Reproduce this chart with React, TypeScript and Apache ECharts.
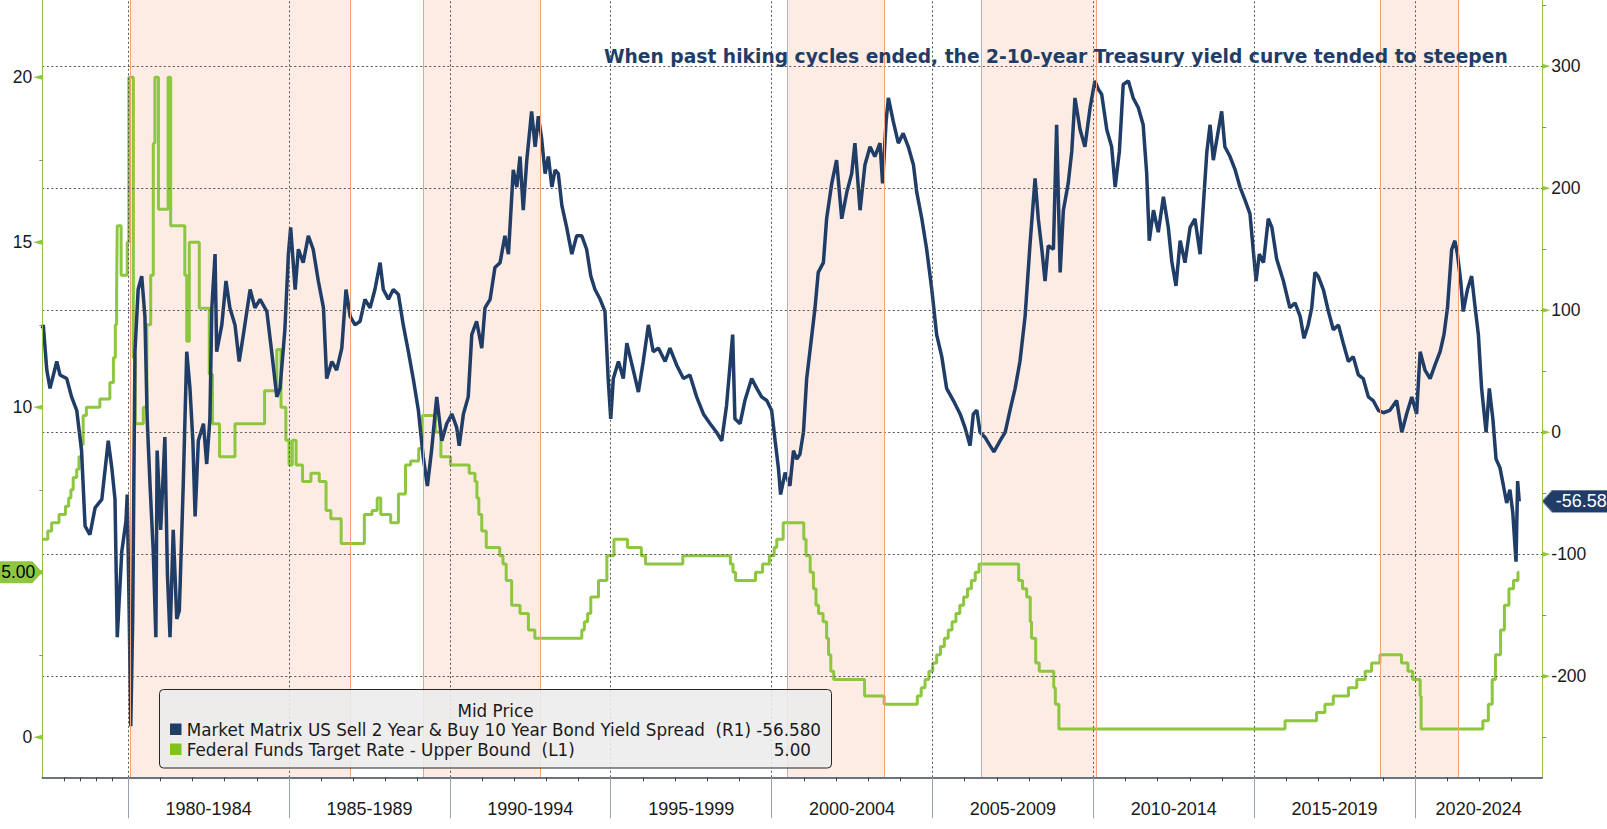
import React, { useEffect, useRef } from 'react';
import * as echarts from 'echarts';

// ---------- axis ranges (decimal years / % / bp) ----------
const X_MIN = 1977.33;
const X_MAX = 2023.957;
const Y_LEFT_MIN = -1.212;
const Y_LEFT_MAX = 22.342;
const Y_RIGHT_MIN = -282.8;
const Y_RIGHT_MAX = 354.3;

// ---------- categories / tick labels ----------
const periodStarts = [1980, 1985, 1990, 1995, 2000, 2005, 2010, 2015, 2020];
const periodLabels = ['1980-1984', '1985-1989', '1990-1994', '1995-1999', '2000-2004', '2005-2009', '2010-2014', '2015-2019', '2020-2024'];
const earlyHalfYearTicks = [1978, 1978.5, 1979, 1979.5];
const leftAxisLabels = [0, 10, 15, 20];
const leftAxisArrows = [0, 5, 10, 15, 20];
const leftMinorTicks = [2.5, 7.5, 12.5, 17.5];
const rightAxisLabels = [-200, -100, 0, 100, 200, 300];
const rightMinorTicks = [-250, -150, -50, 50, 150, 250, 350];

// shaded periods after hiking cycles ended
const bands: [number, number][] = [
  [1980.06, 1986.89],
  [1989.16, 1992.8],
  [2000.48, 2003.49],
  [2006.51, 2010.09],
  [2018.91, 2021.34],
];

const chartTitle = 'When past hiking cycles ended, the 2-10-year Treasury yield curve tended to steepen';
const legendTitle = 'Mid Price';
const seriesNames = [
  'Market Matrix US Sell 2 Year & Buy 10 Year Bond Yield Spread\u00a0\u00a0(R1)',
  'Federal Funds Target Rate - Upper Bound\u00a0\u00a0(L1)',
];

// ---------- series values ----------
// 2s10s spread, bp (right axis)
const spread: [number, number][] = [
  [1977.33, 85], [1977.36, 88], [1977.47, 51], [1977.57, 36], [1977.78, 58], [1977.88, 47], [1978.09, 44], [1978.24, 29],
  [1978.4, 18], [1978.55, -15], [1978.66, -77], [1978.81, -84], [1978.97, -62], [1979.18, -55], [1979.38, -7], [1979.49, -29],
  [1979.59, -55], [1979.66, -168], [1979.8, -98], [1979.93, -73], [1979.97, -51], [1980.03, -146], [1980.08, -241], [1980.14, -153],
  [1980.21, 66], [1980.31, 117], [1980.42, 128], [1980.52, 95], [1980.59, 11], [1980.68, -44], [1980.78, -98], [1980.86, -168],
  [1980.9, -15], [1981.01, -80], [1981.14, -4], [1981.22, -117], [1981.3, -168], [1981.4, -80], [1981.51, -153], [1981.59, -146],
  [1981.71, -44], [1981.82, 66], [1981.92, 36], [1982.01, -7], [1982.08, -69], [1982.18, -7], [1982.34, 7], [1982.44, -26],
  [1982.54, 11], [1982.6, 102], [1982.7, 146], [1982.75, 66], [1982.91, 88], [1983.04, 124], [1983.16, 102], [1983.32, 88],
  [1983.45, 58], [1983.58, 80], [1983.79, 117], [1983.94, 102], [1984.1, 109], [1984.31, 99], [1984.46, 66], [1984.62, 29],
  [1984.72, 36], [1984.87, 84], [1984.98, 146], [1985.05, 168], [1985.19, 117], [1985.29, 150], [1985.44, 139], [1985.6, 161],
  [1985.75, 150], [1985.91, 124], [1986.07, 102], [1986.17, 44], [1986.33, 58], [1986.48, 51], [1986.64, 69], [1986.77, 117],
  [1986.9, 95], [1987.05, 88], [1987.21, 91], [1987.36, 109], [1987.52, 102], [1987.67, 117], [1987.83, 139], [1987.93, 117],
  [1988.09, 109], [1988.24, 117], [1988.4, 113], [1988.55, 88], [1988.71, 66], [1988.86, 44], [1989.02, 18], [1989.17, -20],
  [1989.3, -44], [1989.43, -15], [1989.59, 29], [1989.75, -7], [1989.9, 7], [1990.06, 15], [1990.21, 4], [1990.29, -11],
  [1990.42, 15], [1990.57, 29], [1990.68, 80], [1990.83, 91], [1990.99, 69], [1991.09, 102], [1991.25, 109], [1991.4, 135],
  [1991.56, 139], [1991.71, 161], [1991.82, 146], [1991.97, 215], [1992.08, 201], [1992.18, 226], [1992.28, 182], [1992.39, 223],
  [1992.54, 263], [1992.65, 234], [1992.75, 259], [1992.85, 241], [1992.96, 212], [1993.06, 226], [1993.17, 201], [1993.27, 215],
  [1993.37, 212], [1993.48, 186], [1993.63, 168], [1993.79, 146], [1993.94, 161], [1994.1, 161], [1994.25, 150], [1994.38, 128],
  [1994.51, 117], [1994.67, 109], [1994.82, 99], [1994.92, 44], [1995.0, 11], [1995.08, 44], [1995.24, 58], [1995.39, 44],
  [1995.5, 73], [1995.7, 51], [1995.86, 33], [1996.01, 58], [1996.17, 88], [1996.32, 66], [1996.48, 69], [1996.69, 58],
  [1996.84, 69], [1997.05, 55], [1997.26, 44], [1997.46, 47], [1997.67, 29], [1997.88, 15], [1998.09, 7], [1998.29, 0],
  [1998.45, -7], [1998.6, 22], [1998.79, 80], [1998.86, 11], [1999.02, 7], [1999.17, 26], [1999.38, 44], [1999.54, 36],
  [1999.69, 29], [1999.85, 26], [2000.0, 18], [2000.11, -7], [2000.21, -29], [2000.28, -51], [2000.42, -33], [2000.57, -44],
  [2000.68, -15], [2000.78, -22], [2000.88, -18], [2000.99, 0], [2001.09, 44], [2001.19, 66], [2001.35, 102], [2001.45, 131],
  [2001.61, 139], [2001.71, 175], [2001.87, 204], [2002.02, 223], [2002.18, 175], [2002.34, 197], [2002.49, 212], [2002.59, 237],
  [2002.75, 182], [2002.9, 219], [2003.06, 234], [2003.21, 226], [2003.37, 237], [2003.45, 204], [2003.56, 255], [2003.63, 274],
  [2003.78, 255], [2003.94, 237], [2004.09, 245], [2004.25, 234], [2004.41, 219], [2004.51, 197], [2004.67, 175], [2004.82, 150],
  [2004.98, 117], [2005.13, 80], [2005.29, 62], [2005.44, 36], [2005.65, 26], [2005.86, 15], [2006.01, 4], [2006.17, -11],
  [2006.27, 15], [2006.38, 18], [2006.48, 0], [2006.63, -4], [2006.79, -11], [2006.91, -16], [2007.1, -7], [2007.26, 0],
  [2007.41, 18], [2007.57, 36], [2007.72, 58], [2007.88, 95], [2008.03, 153], [2008.19, 208], [2008.29, 175], [2008.4, 150],
  [2008.5, 124], [2008.6, 153], [2008.76, 150], [2008.86, 252], [2008.97, 131], [2009.07, 182], [2009.22, 204], [2009.33, 230],
  [2009.43, 274], [2009.59, 248], [2009.74, 234], [2009.9, 266], [2010.05, 288], [2010.16, 281], [2010.26, 277], [2010.42, 248],
  [2010.57, 234], [2010.68, 201], [2010.81, 230], [2010.93, 285], [2011.09, 288], [2011.24, 274], [2011.4, 266], [2011.55, 252],
  [2011.66, 212], [2011.74, 157], [2011.87, 182], [2012.02, 164], [2012.18, 193], [2012.33, 168], [2012.44, 140], [2012.57, 120],
  [2012.7, 157], [2012.85, 139], [2013.01, 168], [2013.16, 175], [2013.32, 146], [2013.42, 186], [2013.53, 230], [2013.63, 252],
  [2013.73, 223], [2013.89, 248], [2013.99, 263], [2014.09, 234], [2014.25, 226], [2014.41, 215], [2014.56, 201], [2014.72, 190],
  [2014.87, 179], [2014.97, 150], [2015.06, 124], [2015.16, 146], [2015.29, 139], [2015.44, 175], [2015.55, 168], [2015.7, 142],
  [2015.91, 124], [2016.11, 102], [2016.27, 106], [2016.43, 95], [2016.55, 77], [2016.68, 88], [2016.79, 102], [2016.89, 131],
  [2016.99, 128], [2017.15, 117], [2017.31, 99], [2017.46, 84], [2017.62, 88], [2017.77, 73], [2017.93, 58], [2018.08, 62],
  [2018.24, 47], [2018.39, 44], [2018.55, 29], [2018.7, 26], [2018.86, 18], [2019.02, 16], [2019.22, 18], [2019.43, 26],
  [2019.59, 0], [2019.74, 15], [2019.9, 29], [2020.05, 15], [2020.16, 66], [2020.31, 51], [2020.47, 44], [2020.62, 55],
  [2020.78, 66], [2020.9, 80], [2021.01, 102], [2021.14, 150], [2021.24, 157], [2021.32, 146], [2021.42, 124], [2021.5, 99],
  [2021.63, 117], [2021.76, 128], [2021.87, 102], [2021.97, 80], [2022.07, 36], [2022.21, 0], [2022.31, 36], [2022.42, 11],
  [2022.52, -22], [2022.64, -29], [2022.75, -44], [2022.85, -58], [2022.95, -47], [2023.04, -66], [2023.14, -106], [2023.19, -40],
  [2023.24, -56.58],
];

// Fed funds target upper bound, % (left axis); each point = new level from that date
const fedFunds: [number, number][] = [
  [1977.33, 6.0], [1977.5, 6.25], [1977.62, 6.5], [1977.85, 6.75], [1978.05, 7.0], [1978.15, 7.25], [1978.22, 7.5], [1978.29, 7.875],
  [1978.4, 8.125], [1978.47, 8.5], [1978.55, 8.875], [1978.6, 9.75], [1978.7, 10.0], [1979.12, 10.25], [1979.43, 10.75], [1979.54, 11.5],
  [1979.6, 12.5], [1979.64, 13.5], [1979.66, 15.5], [1979.78, 14.0], [1979.97, 15.0], [1980.02, 20.0], [1980.16, 11.5], [1980.22, 9.5],
  [1980.47, 10.0], [1980.58, 12.5], [1980.7, 14.0], [1980.78, 18.0], [1980.83, 20.0], [1980.94, 16.0], [1981.24, 20.0], [1981.32, 15.5],
  [1981.76, 14.0], [1981.82, 12.0], [1981.9, 15.0], [1982.21, 13.0], [1982.52, 11.0], [1982.62, 9.5], [1982.84, 8.5], [1983.32, 9.5],
  [1984.24, 10.5], [1984.62, 11.75], [1984.75, 10.0], [1984.9, 9.0], [1985.0, 8.25], [1985.1, 9.0], [1985.22, 8.25], [1985.42, 7.75],
  [1985.68, 8.0], [1985.94, 7.75], [1986.15, 6.875], [1986.3, 6.625], [1986.62, 5.875], [1987.34, 6.75], [1987.58, 6.875], [1987.74, 7.25],
  [1987.85, 6.75], [1988.16, 6.5], [1988.4, 7.375], [1988.62, 8.25], [1988.78, 8.375], [1989.03, 8.75], [1989.15, 9.75], [1989.55, 9.25],
  [1989.72, 8.5], [1990.02, 8.25], [1990.6, 8.0], [1990.78, 7.75], [1990.84, 7.25], [1990.9, 6.75], [1990.99, 6.25], [1991.13, 5.75],
  [1991.55, 5.5], [1991.65, 5.25], [1991.75, 4.75], [1991.92, 4.0], [1992.18, 3.75], [1992.44, 3.25], [1992.64, 3.0], [1994.1, 3.25],
  [1994.18, 3.5], [1994.28, 3.75], [1994.38, 4.25], [1994.62, 4.75], [1994.88, 5.5], [1995.1, 6.0], [1995.52, 5.75], [1995.95, 5.5],
  [1996.08, 5.25], [1997.24, 5.5], [1998.72, 5.25], [1998.8, 5.0], [1998.88, 4.75], [1999.5, 5.0], [1999.72, 5.25], [1999.93, 5.5],
  [2000.08, 5.75], [2000.16, 6.0], [2000.36, 6.5], [2001.0, 6.0], [2001.07, 5.5], [2001.2, 5.0], [2001.3, 4.5], [2001.38, 4.0],
  [2001.46, 3.75], [2001.6, 3.5], [2001.71, 3.0], [2001.77, 2.5], [2001.84, 2.0], [2001.93, 1.75], [2002.89, 1.25], [2003.5, 1.0],
  [2004.53, 1.25], [2004.65, 1.5], [2004.77, 1.75], [2004.89, 2.0], [2005.01, 2.25], [2005.13, 2.5], [2005.25, 2.75], [2005.37, 3.0],
  [2005.49, 3.25], [2005.61, 3.5], [2005.73, 3.75], [2005.85, 4.0], [2005.97, 4.25], [2006.09, 4.5], [2006.21, 4.75], [2006.33, 5.0],
  [2006.45, 5.25], [2007.68, 4.75], [2007.8, 4.5], [2007.93, 4.25], [2008.04, 3.5], [2008.08, 3.0], [2008.21, 2.25], [2008.32, 2.0],
  [2008.77, 1.5], [2008.82, 1.0], [2008.93, 0.25], [2015.96, 0.5], [2016.94, 0.75], [2017.2, 1.0], [2017.46, 1.25], [2017.93, 1.5],
  [2018.19, 1.75], [2018.45, 2.0], [2018.65, 2.25], [2018.91, 2.5], [2019.58, 2.25], [2019.78, 2.0], [2019.93, 1.75], [2020.16, 1.25],
  [2020.19, 0.25], [2022.11, 0.5], [2022.28, 1.0], [2022.4, 1.75], [2022.5, 2.5], [2022.66, 3.25], [2022.78, 4.0], [2022.92, 4.5],
  [2023.06, 4.75], [2023.2, 5.0], [2023.24, 5.0],
];

// ---------- styling ----------
const NAVY = '#1f3d66';
const GREEN = '#8dc63f';
const AXIS_FONT = '"Liberation Sans", Arial, sans-serif';
const LEGEND_FONT = '16.8px "DejaVu Sans", Verdana, sans-serif';

function buildOption() {
  const spreadLast = spread[spread.length - 1][1];
  const fedLast = fedFunds[fedFunds.length - 1][1];
  const labelCenters = periodStarts.map((s) => (Math.max(s, X_MIN) + Math.min(s + 5, X_MAX)) / 2);
  const minorYearTicks: number[] = [...earlyHalfYearTicks];
  for (let y = 1981; y < X_MAX; y++) if (y % 5 !== 0) minorYearTicks.push(y);
  const xLeft = X_MIN + 1e-4;
  const xRight = X_MAX - 1e-4;
  const bandEdges = bands.flat();

  return {
    animation: false,
    backgroundColor: '#ffffff',
    tooltip: { show: false },
    grid: { left: 42.3, right: 64.7, top: 0, bottom: 51.7, containLabel: false },
    xAxis: [
      {
        type: 'value',
        min: X_MIN,
        max: X_MAX,
        position: 'bottom',
        z: 5,
        axisLine: { show: true, onZero: false, lineStyle: { color: '#3a4654', width: 1.5 } },
        axisTick: { show: true, customValues: periodStarts, length: 41, lineStyle: { color: '#9aa3ab', width: 1 } },
        axisLabel: {
          show: true,
          customValues: labelCenters,
          formatter: (v: number) => {
            const i = labelCenters.findIndex((c) => Math.abs(c - v) < 1e-6);
            return i >= 0 ? periodLabels[i] : '';
          },
          margin: 31.5,
          verticalAlign: 'middle',
          fontSize: 18,
          fontFamily: AXIS_FONT,
          color: '#1a1a1a',
        },
        splitLine: { show: false },
      },
      {
        type: 'value',
        min: X_MIN,
        max: X_MAX,
        position: 'bottom',
        z: 5,
        axisLine: { show: false, onZero: false },
        axisTick: { show: true, customValues: minorYearTicks, length: 4, lineStyle: { color: '#3a4654', width: 1 } },
        axisLabel: { show: false },
        splitLine: { show: false },
      },
    ],
    yAxis: [
      {
        type: 'value',
        position: 'left',
        min: Y_LEFT_MIN,
        max: Y_LEFT_MAX,
        z: 5,
        axisLine: { show: true, onZero: false, lineStyle: { color: GREEN, width: 1 } },
        axisTick: { show: true, customValues: leftMinorTicks, length: 3, lineStyle: { color: '#888', width: 1 } },
        axisLabel: { show: true, customValues: leftAxisLabels, margin: 10, fontSize: 17.5, fontFamily: AXIS_FONT, color: '#1a1a1a' },
        splitLine: { show: false },
      },
      {
        type: 'value',
        position: 'right',
        min: Y_RIGHT_MIN,
        max: Y_RIGHT_MAX,
        z: 5,
        axisLine: { show: true, onZero: false, lineStyle: { color: GREEN, width: 1 } },
        axisTick: { show: true, customValues: rightMinorTicks, length: 4, lineStyle: { color: '#888', width: 1 } },
        axisLabel: { show: true, customValues: rightAxisLabels, margin: 9, fontSize: 17.5, fontFamily: AXIS_FONT, color: '#1a1a1a' },
        splitLine: { show: false },
      },
    ],
    series: [
      {
        name: 'bands',
        type: 'line',
        xAxisIndex: 0,
        yAxisIndex: 1,
        data: [],
        z: 1,
        silent: true,
        markArea: {
          silent: true,
          itemStyle: { color: '#fdece3', borderWidth: 0 },
          data: bands.map(([a, b]) => [{ xAxis: a }, { xAxis: b }]),
        },
      },
      {
        name: 'grid',
        type: 'line',
        xAxisIndex: 0,
        yAxisIndex: 1,
        data: [],
        z: 2,
        silent: true,
        markLine: {
          silent: true,
          symbol: ['none', 'none'],
          label: { show: false },
          lineStyle: { color: '#555', type: [2, 2.5], width: 1 },
          data: [
            ...periodStarts.map((v) => ({ xAxis: v })),
            ...rightAxisLabels.map((v) => ({ yAxis: v })),
            ...bandEdges.map((v) => ({ xAxis: v, lineStyle: { color: '#f2a27a', type: 'solid', width: 1 } })),
          ],
        },
      },
      {
        name: seriesNames[1],
        type: 'line',
        xAxisIndex: 0,
        yAxisIndex: 0,
        step: 'end',
        data: fedFunds,
        z: 3,
        showSymbol: false,
        symbol: 'none',
        lineStyle: { color: GREEN, width: 3 },
        markPoint: {
          silent: true,
          label: { show: false },
          data: [
            ...leftAxisArrows.map((v) => ({
              coord: [xLeft, v],
              symbol: 'path://M9,0L0,2.5L9,5Z',
              symbolSize: [9, 5],
              symbolOffset: [-4.5, 0],
              itemStyle: { color: GREEN },
              label: { show: false },
            })),
            {
              coord: [xLeft, fedLast],
              symbol: 'path://M0,0L34,0L44,11L34,22L0,22Z',
              symbolSize: [44, 22],
              symbolOffset: [-22, 0],
              itemStyle: { color: GREEN },
              label: { show: true, formatter: fedLast.toFixed(2), color: '#000', fontSize: 17.5, fontFamily: AXIS_FONT, offset: [-2, 0] },
            },
          ],
        },
      },
      {
        name: seriesNames[0],
        type: 'line',
        xAxisIndex: 0,
        yAxisIndex: 1,
        data: spread,
        z: 4,
        showSymbol: false,
        symbol: 'none',
        lineStyle: { color: NAVY, width: 3.5 },
        markPoint: {
          silent: true,
          label: { show: false },
          data: [
            ...rightAxisLabels.map((v) => ({
              coord: [xRight, v],
              symbol: 'path://M0,0L8,2.5L0,5Z',
              symbolSize: [8, 5],
              symbolOffset: [4, 0],
              itemStyle: { color: GREEN },
              label: { show: false },
            })),
            {
              coord: [xRight, spreadLast],
              symbol: 'path://M0,11L10,0L70,0L70,22L10,22Z',
              symbolSize: [70, 22],
              symbolOffset: [35, 0],
              itemStyle: { color: NAVY, borderColor: '#6f86a3', borderWidth: 0.8 },
              label: { show: true, formatter: spreadLast.toFixed(2), color: '#ffffff', fontSize: 18, fontFamily: AXIS_FONT, offset: [4, 0] },
            },
          ],
        },
      },
    ],
    graphic: {
      elements: [
        {
          type: 'text',
          z: 20,
          x: 1507.7,
          y: 56,
          style: {
            text: chartTitle,
            font: 'bold 18.7px "DejaVu Sans", Verdana, sans-serif',
            fill: NAVY,
            align: 'right',
            textAlign: 'right',
            verticalAlign: 'middle',
            textVerticalAlign: 'middle',
          },
        },
        {
          type: 'rect',
          z: 20,
          shape: { x: 159.5, y: 689.5, width: 672, height: 78.5, r: 4 },
          style: { fill: 'rgba(236,236,236,0.88)', stroke: '#262626', lineWidth: 1 },
        },
        {
          type: 'text',
          z: 21,
          x: 495.5,
          y: 710.5,
          style: { text: legendTitle, font: LEGEND_FONT, fill: '#1a1a1a', align: 'center', textAlign: 'center', verticalAlign: 'middle', textVerticalAlign: 'middle' },
        },
        { type: 'rect', z: 21, shape: { x: 170, y: 723.5, width: 11.5, height: 11.5 }, style: { fill: NAVY } },
        {
          type: 'text',
          z: 21,
          x: 186.7,
          y: 730,
          style: { text: seriesNames[0], font: LEGEND_FONT, fill: '#1a1a1a', align: 'left', textAlign: 'left', verticalAlign: 'middle', textVerticalAlign: 'middle' },
        },
        {
          type: 'text',
          z: 21,
          x: 821,
          y: 730,
          style: { text: spreadLast.toFixed(3), font: LEGEND_FONT, fill: '#1a1a1a', align: 'right', textAlign: 'right', verticalAlign: 'middle', textVerticalAlign: 'middle' },
        },
        { type: 'rect', z: 21, shape: { x: 170, y: 743.5, width: 11.5, height: 11.5 }, style: { fill: '#7fc31c' } },
        {
          type: 'text',
          z: 21,
          x: 186.7,
          y: 750,
          style: { text: seriesNames[1], font: LEGEND_FONT, fill: '#1a1a1a', align: 'left', textAlign: 'left', verticalAlign: 'middle', textVerticalAlign: 'middle' },
        },
        {
          type: 'text',
          z: 21,
          x: 811,
          y: 750,
          style: { text: fedLast.toFixed(2), font: LEGEND_FONT, fill: '#1a1a1a', align: 'right', textAlign: 'right', verticalAlign: 'middle', textVerticalAlign: 'middle' },
        },
      ],
    },
  };
}

export default function App() {
  const ref = useRef<HTMLDivElement>(null);
  useEffect(() => {
    document.body.style.margin = '0';
    if (!ref.current) return;
    const chart = echarts.init(ref.current, null, { renderer: 'svg', width: 1607, height: 829 });
    chart.setOption(buildOption() as any);
    return () => chart.dispose();
  }, []);
  return (
    <div
      ref={ref}
      style={{ position: 'absolute', left: 0, top: 0, width: 1607, height: 829, background: '#ffffff', overflow: 'hidden' }}
    />
  );
}
